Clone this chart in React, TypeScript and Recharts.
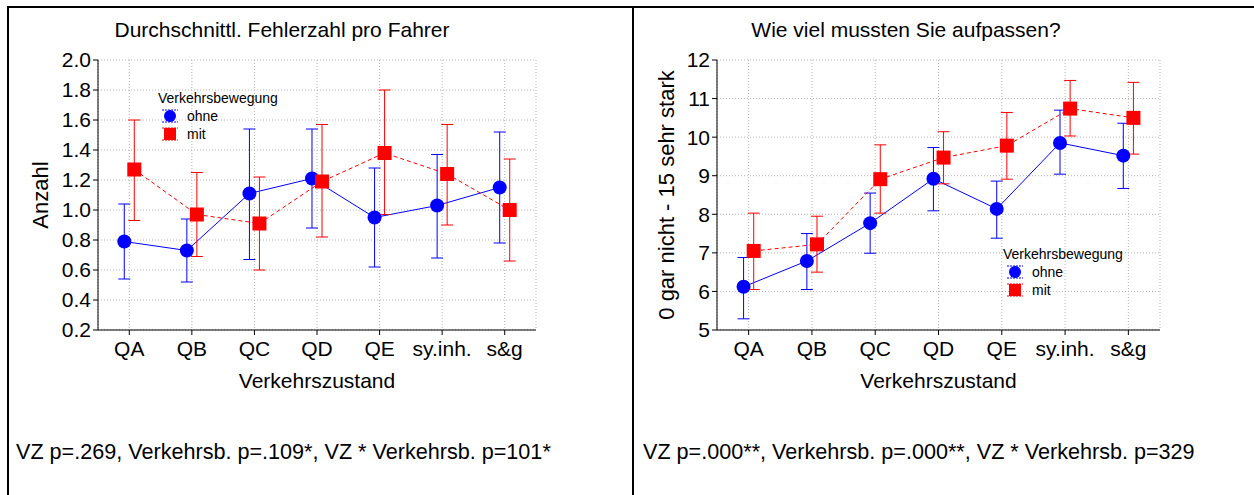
import React from 'react';
import {
  ComposedChart,
  Line,
  XAxis,
  YAxis,
  CartesianGrid,
  ErrorBar,
  Legend,
  Label,
} from 'recharts';

const CATEGORIES = ['QA', 'QB', 'QC', 'QD', 'QE', 'sy.inh.', 's&g'];
const SERIES_NAMES = ['ohne', 'mit'];

// Durchschnittl. Fehlerzahl pro Fahrer
const FEHLER_OHNE = [0.79, 0.73, 1.11, 1.21, 0.95, 1.03, 1.15];
const FEHLER_OHNE_LO = [0.54, 0.52, 0.67, 0.88, 0.62, 0.68, 0.78];
const FEHLER_OHNE_HI = [1.04, 0.94, 1.54, 1.54, 1.28, 1.37, 1.52];
const FEHLER_MIT = [1.27, 0.97, 0.91, 1.19, 1.38, 1.24, 1.0];
const FEHLER_MIT_LO = [0.93, 0.69, 0.6, 0.82, 0.97, 0.9, 0.66];
const FEHLER_MIT_HI = [1.6, 1.25, 1.22, 1.57, 1.8, 1.57, 1.34];
const FEHLER_TICKS = [0.2, 0.4, 0.6, 0.8, 1.0, 1.2, 1.4, 1.6, 1.8, 2.0];

// Wie viel mussten Sie aufpassen?
const AUF_OHNE = [6.12, 6.79, 7.77, 8.92, 8.14, 9.85, 9.52];
const AUF_OHNE_LO = [5.29, 6.05, 6.99, 8.09, 7.38, 9.04, 8.67];
const AUF_OHNE_HI = [6.88, 7.5, 8.55, 9.73, 8.86, 10.7, 10.36];
const AUF_MIT = [7.05, 7.22, 8.91, 9.47, 9.78, 10.74, 10.5];
const AUF_MIT_LO = [6.05, 6.5, 8.03, 8.79, 8.91, 10.03, 9.56];
const AUF_MIT_HI = [8.03, 7.95, 9.8, 10.14, 10.64, 11.47, 11.42];
const AUF_TICKS = [5, 6, 7, 8, 9, 10, 11, 12];

const BLUE = '#0000FF';
const RED = '#FF0000';
const FONT = '"Liberation Sans", Arial, sans-serif';
const SHIFT = 0.08; // ohne/mit side by side within a category

type Point = { x: number; y: number; err: [number, number] };

function buildSeries(means: number[], lo: number[], hi: number[], shift: number): Point[] {
  return means.map((m, i) => ({ x: i + shift, y: m, err: [m - lo[i], hi[i] - m] }));
}

const CircleDot = (p: any) =>
  p.cx == null ? null : <circle key={`c${p.index}`} cx={p.cx} cy={p.cy} r={7} fill={BLUE} />;

const SquareDot = (p: any) =>
  p.cx == null ? null : (
    <rect key={`s${p.index}`} x={p.cx - 7} y={p.cy - 7} width={14} height={14} fill={RED} />
  );

function LegendMarker({ color, square }: { color: string; square: boolean }) {
  return (
    <svg width={24} height={16} style={{ display: 'block' }}>
      <line x1={4} x2={20} y1={2} y2={2} stroke={color} strokeDasharray="2 1" />
      <line x1={4} x2={20} y1={14} y2={14} stroke={color} strokeDasharray="2 1" />
      {square ? (
        <rect x={6} y={2} width={12} height={12} fill={color} />
      ) : (
        <circle cx={12} cy={8} r={6} fill={color} />
      )}
    </svg>
  );
}

function LegendContent(props: any) {
  const items = [...(props.payload || [])].sort(
    (a: any, b: any) => SERIES_NAMES.indexOf(a.value) - SERIES_NAMES.indexOf(b.value)
  );
  return (
    <div style={{ fontFamily: FONT, fontSize: 14, color: '#000', lineHeight: '18px' }}>
      <div>Verkehrsbewegung</div>
      {items.map((it: any) => (
        <div key={it.value} style={{ display: 'flex', alignItems: 'center', height: 18 }}>
          <LegendMarker color={it.color} square={it.value === 'mit'} />
          <span style={{ marginLeft: 5 }}>{it.value}</span>
        </div>
      ))}
    </div>
  );
}

type PanelProps = {
  left: number;
  yAxisWidth: number;
  marginRight: number;
  ohne: Point[];
  mit: Point[];
  yDomain: [number, number];
  yTicks: number[];
  yFormat: (v: number) => string;
  yLabel: string;
  legendLeft: number;
  legendTop: number;
};

function Panel(p: PanelProps) {
  const xTicks = CATEGORIES.map((_, i) => i);
  const tickStyle = { fontSize: 21, fill: '#000', fontFamily: FONT };
  return (
    <div style={{ position: 'absolute', left: p.left, top: 0 }}>
      <ComposedChart
        width={620}
        height={400}
        margin={{ top: 60, right: p.marginRight, bottom: 40, left: 0 }}
      >
        <CartesianGrid stroke="#b4b4b4" strokeDasharray="1 2" />
        <XAxis
          type="number"
          dataKey="x"
          domain={[-0.5, 6.5]}
          ticks={xTicks}
          tickFormatter={(i: number) => CATEGORIES[i]}
          interval={0}
          height={30}
          tickSize={5}
          tickMargin={6}
          tick={tickStyle}
          stroke="#000"
          allowDataOverflow
        >
          <Label
            value="Verkehrszustand"
            position="bottom"
            offset={13}
            style={{ fontSize: 21, fill: '#000', fontFamily: FONT }}
          />
        </XAxis>
        <XAxis
          xAxisId="top"
          orientation="top"
          type="number"
          domain={[-0.5, 6.5]}
          height={0}
          tick={false}
          tickLine={false}
          stroke="#000"
        />
        <YAxis
          type="number"
          domain={p.yDomain}
          ticks={p.yTicks}
          tickFormatter={p.yFormat}
          interval={0}
          width={p.yAxisWidth}
          tickSize={5}
          tickMargin={2}
          tick={tickStyle}
          stroke="#000"
          allowDataOverflow
        >
          <Label
            value={p.yLabel}
            position="center"
            angle={-90}
            dx={-9}
            style={{ fontSize: 22, fill: '#000', fontFamily: FONT }}
          />
        </YAxis>
        <YAxis
          yAxisId="right"
          orientation="right"
          type="number"
          domain={p.yDomain}
          width={0}
          tick={false}
          tickLine={false}
          stroke="#000"
        />
        <Legend
          layout="vertical"
          align="center"
          verticalAlign="middle"
          content={LegendContent}
          wrapperStyle={{ position: 'absolute', left: p.legendLeft, top: p.legendTop, width: 'auto' }}
        />
        <Line
          data={p.ohne}
          name="ohne"
          type="linear"
          dataKey="y"
          stroke={BLUE}
          strokeWidth={1}
          dot={CircleDot}
          activeDot={false}
          isAnimationActive={false}
        >
          <ErrorBar dataKey="err" direction="y" width={6} stroke={BLUE} strokeWidth={1} />
        </Line>
        <Line
          data={p.mit}
          name="mit"
          type="linear"
          dataKey="y"
          stroke={RED}
          strokeWidth={1}
          strokeDasharray="4 3"
          dot={SquareDot}
          activeDot={false}
          isAnimationActive={false}
        >
          <ErrorBar dataKey="err" direction="y" width={6} stroke={RED} strokeWidth={1} />
        </Line>
      </ComposedChart>
    </div>
  );
}

const textStyle: React.CSSProperties = {
  position: 'absolute',
  fontFamily: FONT,
  fontSize: 21,
  lineHeight: '22px',
  color: '#000',
  whiteSpace: 'nowrap',
};

export default function App() {
  return (
    <div
      style={{
        position: 'absolute',
        left: 0,
        top: 0,
        width: 1254,
        height: 495,
        background: '#fff',
        overflow: 'hidden',
        fontFamily: FONT,
      }}
    >
      <div
        style={{
          position: 'absolute',
          left: 7,
          top: 6,
          width: 1247,
          height: 489,
          borderTop: '2px solid #000',
          borderLeft: '2px solid #000',
        }}
      />
      <div style={{ position: 'absolute', left: 632, top: 6, width: 2, height: 489, background: '#000' }} />

      <div style={{ ...textStyle, left: 82, top: 19, width: 400, textAlign: 'center' }}>
        Durchschnittl. Fehlerzahl pro Fahrer
      </div>
      <div style={{ ...textStyle, left: 706, top: 19, width: 400, textAlign: 'center' }}>
        Wie viel mussten Sie aufpassen?
      </div>

      <Panel
        left={0}
        yAxisWidth={98}
        marginRight={84}
        ohne={buildSeries(FEHLER_OHNE, FEHLER_OHNE_LO, FEHLER_OHNE_HI, -SHIFT)}
        mit={buildSeries(FEHLER_MIT, FEHLER_MIT_LO, FEHLER_MIT_HI, SHIFT)}
        yDomain={[0.2, 2.0]}
        yTicks={FEHLER_TICKS}
        yFormat={(v) => v.toFixed(1)}
        yLabel="Anzahl"
        legendLeft={158}
        legendTop={89}
      />
      <Panel
        left={634}
        yAxisWidth={83}
        marginRight={94}
        ohne={buildSeries(AUF_OHNE, AUF_OHNE_LO, AUF_OHNE_HI, -SHIFT)}
        mit={buildSeries(AUF_MIT, AUF_MIT_LO, AUF_MIT_HI, SHIFT)}
        yDomain={[5, 12]}
        yTicks={AUF_TICKS}
        yFormat={(v) => String(v)}
        yLabel="0 gar nicht - 15 sehr stark"
        legendLeft={369}
        legendTop={245}
      />

      <div style={{ ...textStyle, fontSize: 21.6, left: 16, top: 441 }}>
        VZ p=.269, Verkehrsb. p=.109*, VZ * Verkehrsb. p=101*
      </div>
      <div style={{ ...textStyle, fontSize: 21.6, left: 643, top: 441 }}>
        VZ p=.000**, Verkehrsb. p=.000**, VZ * Verkehrsb. p=329
      </div>
    </div>
  );
}
